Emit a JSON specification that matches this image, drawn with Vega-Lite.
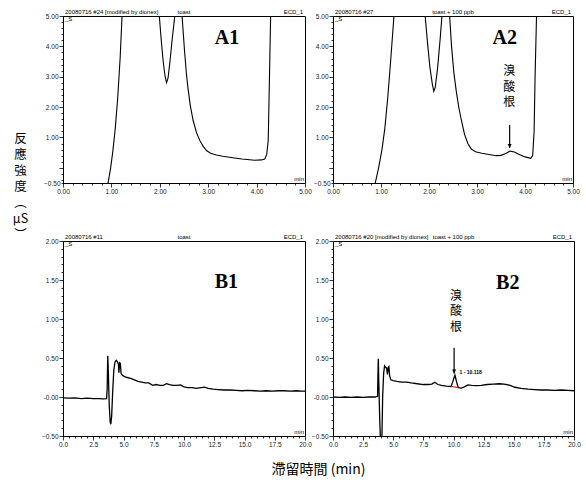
{
"$schema": "https://vega.github.io/schema/vega-lite/v6.json",
"background": "white",
"padding": {"left": 11, "top": 8, "right": 5, "bottom": 5},
"bounds": "flush",
"columns": 2,
"spacing": {"row": 58, "column": 28},
"config": {
  "view": {"stroke": "black", "strokeWidth": 1},
  "axis": {"labelFont": "Liberation Sans", "labelFontSize": 6.5, "labelColor": "#222", "tickColor": "#000", "domainColor": "#000", "grid": false, "labelOverlap": false, "labelFlush": false, "labelPadding": 1, "tickWidth": 0.8, "domainWidth": 1}
},
"datasets": {
  "a1": [{"x":0.88,"y":-1.2},{"x":0.93,"y":-0.5},{"x":0.98,"y":-0.05},{"x":1.03,"y":0.55},{"x":1.08,"y":1.3},{"x":1.13,"y":2.3},{"x":1.18,"y":3.6},{"x":1.22,"y":5.0},{"x":1.26,"y":6.5},{"x":1.95,"y":6.5},{"x":1.99,"y":5.0},{"x":2.03,"y":4.2},{"x":2.07,"y":3.5},{"x":2.11,"y":3.0},{"x":2.14,"y":2.8},{"x":2.17,"y":2.95},{"x":2.21,"y":3.5},{"x":2.26,"y":4.3},{"x":2.31,"y":5.0},{"x":2.34,"y":6.5},{"x":2.43,"y":6.5},{"x":2.46,"y":5.0},{"x":2.51,"y":3.87},{"x":2.55,"y":3.1},{"x":2.58,"y":2.65},{"x":2.63,"y":2.05},{"x":2.69,"y":1.55},{"x":2.76,"y":1.15},{"x":2.83,"y":0.89},{"x":2.9,"y":0.7},{"x":2.97,"y":0.56},{"x":3.05,"y":0.48},{"x":3.17,"y":0.42},{"x":3.3,"y":0.38},{"x":3.51,"y":0.33},{"x":3.7,"y":0.29},{"x":3.96,"y":0.25},{"x":4.1,"y":0.26},{"x":4.17,"y":0.29},{"x":4.21,"y":0.45},{"x":4.24,"y":0.9},{"x":4.26,"y":2.5},{"x":4.29,"y":5.0},{"x":4.32,"y":6.5}],
  "a2": [{"x":0.83,"y":-1.2},{"x":0.88,"y":-0.5},{"x":0.95,"y":0.0},{"x":1.02,"y":0.6},{"x":1.08,"y":1.3},{"x":1.14,"y":2.3},{"x":1.2,"y":3.5},{"x":1.27,"y":5.0},{"x":1.3,"y":6.5},{"x":1.89,"y":6.5},{"x":1.92,"y":5.0},{"x":1.97,"y":4.1},{"x":2.02,"y":3.3},{"x":2.07,"y":2.75},{"x":2.1,"y":2.52},{"x":2.13,"y":2.65},{"x":2.18,"y":3.3},{"x":2.23,"y":4.2},{"x":2.27,"y":5.0},{"x":2.3,"y":6.5},{"x":2.4,"y":6.5},{"x":2.43,"y":5.0},{"x":2.47,"y":4.0},{"x":2.52,"y":3.1},{"x":2.57,"y":2.5},{"x":2.62,"y":2.0},{"x":2.67,"y":1.6},{"x":2.74,"y":1.1},{"x":2.81,"y":0.8},{"x":2.88,"y":0.62},{"x":2.97,"y":0.53},{"x":3.1,"y":0.48},{"x":3.25,"y":0.44},{"x":3.4,"y":0.4},{"x":3.5,"y":0.41},{"x":3.6,"y":0.47},{"x":3.69,"y":0.55},{"x":3.78,"y":0.52},{"x":3.88,"y":0.44},{"x":4.0,"y":0.36},{"x":4.12,"y":0.31},{"x":4.16,"y":0.4},{"x":4.19,"y":1.2},{"x":4.21,"y":3.0},{"x":4.24,"y":5.0},{"x":4.27,"y":6.5}],
  "b1": [{"x":0,"y":-0.01},{"x":0.5,"y":-0.015},{"x":1.0,"y":-0.01},{"x":1.5,"y":-0.02},{"x":2.0,"y":-0.015},{"x":2.5,"y":-0.02},{"x":3.0,"y":-0.02},{"x":3.3,"y":-0.025},{"x":3.6,"y":-0.02},{"x":3.65,"y":0.1},{"x":3.7,"y":0.53},{"x":3.75,"y":0.3},{"x":3.82,"y":-0.1},{"x":3.9,"y":-0.32},{"x":3.95,"y":-0.35},{"x":4.02,"y":-0.25},{"x":4.1,"y":0.05},{"x":4.2,"y":0.35},{"x":4.3,"y":0.45},{"x":4.4,"y":0.47},{"x":4.5,"y":0.45},{"x":4.58,"y":0.42},{"x":4.62,"y":0.31},{"x":4.68,"y":0.44},{"x":4.74,"y":0.43},{"x":4.8,"y":0.3},{"x":4.9,"y":0.28},{"x":5.1,"y":0.26},{"x":5.3,"y":0.25},{"x":5.6,"y":0.24},{"x":5.9,"y":0.22},{"x":6.2,"y":0.2},{"x":6.5,"y":0.19},{"x":6.8,"y":0.18},{"x":7.1,"y":0.18},{"x":7.4,"y":0.15},{"x":7.7,"y":0.16},{"x":8.0,"y":0.15},{"x":8.3,"y":0.15},{"x":8.55,"y":0.17},{"x":8.8,"y":0.16},{"x":9.1,"y":0.15},{"x":9.4,"y":0.15},{"x":9.7,"y":0.155},{"x":10.0,"y":0.13},{"x":10.3,"y":0.12},{"x":10.7,"y":0.12},{"x":11.0,"y":0.11},{"x":11.4,"y":0.12},{"x":11.7,"y":0.125},{"x":12.0,"y":0.11},{"x":12.4,"y":0.1},{"x":12.8,"y":0.095},{"x":13.3,"y":0.09},{"x":13.8,"y":0.09},{"x":14.3,"y":0.085},{"x":14.8,"y":0.08},{"x":15.3,"y":0.085},{"x":15.8,"y":0.08},{"x":16.3,"y":0.075},{"x":16.8,"y":0.08},{"x":17.3,"y":0.075},{"x":17.8,"y":0.08},{"x":18.3,"y":0.08},{"x":18.8,"y":0.075},{"x":19.3,"y":0.08},{"x":19.7,"y":0.075},{"x":20,"y":0.075}],
  "b2": [{"x":0,"y":0.0},{"x":0.5,"y":-0.005},{"x":1.0,"y":0.0},{"x":1.5,"y":-0.005},{"x":2.0,"y":0.0},{"x":2.5,"y":-0.005},{"x":3.0,"y":0.0},{"x":3.5,"y":0.0},{"x":3.7,"y":0.01},{"x":3.73,"y":0.3},{"x":3.76,"y":0.49},{"x":3.8,"y":0.2},{"x":3.88,"y":-0.3},{"x":3.95,"y":-0.6},{"x":4.05,"y":-0.6},{"x":4.12,"y":0.0},{"x":4.2,"y":0.3},{"x":4.28,"y":0.4},{"x":4.36,"y":0.38},{"x":4.45,"y":0.37},{"x":4.52,"y":0.29},{"x":4.58,"y":0.38},{"x":4.64,"y":0.39},{"x":4.7,"y":0.27},{"x":4.8,"y":0.22},{"x":5.0,"y":0.21},{"x":5.3,"y":0.2},{"x":5.7,"y":0.19},{"x":6.1,"y":0.19},{"x":6.5,"y":0.18},{"x":7.0,"y":0.17},{"x":7.5,"y":0.16},{"x":7.9,"y":0.16},{"x":8.2,"y":0.165},{"x":8.45,"y":0.19},{"x":8.7,"y":0.16},{"x":9.0,"y":0.15},{"x":9.4,"y":0.14},{"x":9.8,"y":0.135},{"x":9.95,"y":0.2},{"x":10.12,"y":0.28},{"x":10.28,"y":0.18},{"x":10.4,"y":0.12},{"x":10.65,"y":0.115},{"x":10.9,"y":0.13},{"x":11.2,"y":0.155},{"x":11.5,"y":0.15},{"x":11.9,"y":0.145},{"x":12.3,"y":0.15},{"x":12.8,"y":0.16},{"x":13.3,"y":0.165},{"x":13.8,"y":0.17},{"x":14.2,"y":0.165},{"x":14.7,"y":0.15},{"x":15.1,"y":0.125},{"x":15.6,"y":0.11},{"x":16.2,"y":0.1},{"x":16.7,"y":0.095},{"x":17.3,"y":0.09},{"x":17.8,"y":0.09},{"x":18.4,"y":0.085},{"x":19.0,"y":0.09},{"x":19.5,"y":0.085},{"x":20,"y":0.08}],
  "txt": [
    {"p":"A1","k":"hl","x":0,"y":5,"s":"20080716 #24 [modified by dionex]"},
    {"p":"A1","k":"hc","x":2.5,"y":5,"s":"toast"},
    {"p":"A1","k":"hr","x":5,"y":5,"s":"ECD_1"},
    {"p":"A1","k":"u","x":0,"y":5,"s":"_S"},
    {"p":"A1","k":"m","x":5,"y":-0.5,"s":"min"},
    {"p":"A1","k":"big","x":3.39,"y":4.28,"s":"A1"},
    {"p":"A2","k":"hl","x":0,"y":5,"s":"20080716 #27"},
    {"p":"A2","k":"hc","x":2.5,"y":5,"s":"toast + 100 ppb"},
    {"p":"A2","k":"hr","x":5,"y":5,"s":"ECD_1"},
    {"p":"A2","k":"u","x":0,"y":5,"s":"_S"},
    {"p":"A2","k":"m","x":5,"y":-0.5,"s":"min"},
    {"p":"A2","k":"big","x":3.58,"y":4.28,"s":"A2"},
    {"p":"A2","k":"cn","x":3.67,"y":3.35,"s":"溴\n酸\n根"},
    {"p":"B1","k":"hl","x":0,"y":2,"s":"20080716 #11"},
    {"p":"B1","k":"hc","x":10,"y":2,"s":"toast"},
    {"p":"B1","k":"hr","x":20,"y":2,"s":"ECD_1"},
    {"p":"B1","k":"u","x":0,"y":2,"s":"_S"},
    {"p":"B1","k":"m","x":20,"y":-0.5,"s":"min"},
    {"p":"B1","k":"big","x":13.5,"y":1.48,"s":"B1"},
    {"p":"B2","k":"hl","x":0,"y":2,"s":"20080716 #20 [modified by dionex]"},
    {"p":"B2","k":"hc","x":10,"y":2,"s":"toast + 100 ppb"},
    {"p":"B2","k":"hr","x":20,"y":2,"s":"ECD_1"},
    {"p":"B2","k":"u","x":0,"y":2,"s":"_S"},
    {"p":"B2","k":"m","x":20,"y":-0.5,"s":"min"},
    {"p":"B2","k":"big","x":14.5,"y":1.46,"s":"B2"},
    {"p":"B2","k":"cn","x":10.2,"y":1.36,"s":"溴\n酸\n根"},
    {"p":"B2","k":"pk","x":10.5,"y":0.32,"s":"1 - 10.118"}
  ],
  "arrows": [
    {"p":"A2","x":3.68,"y":0.65,"ytop":1.41},
    {"p":"B2","x":10.05,"y":0.3,"ytop":0.63}
  ],
  "red": [{"x":9.85,"y":0.135},{"x":10.4,"y":0.12}]
},
"concat": [
  {"width": 242, "height": 167,
   "encoding": {
     "x": {"field":"x","type":"quantitative","scale":{"domain":[0,5],"nice":false,"zero":false},
           "axis":{"title":null,"values":[0,0.2,0.4,0.6,0.8,1,1.2,1.4,1.6,1.8,2,2.2,2.4,2.6,2.8,3,3.2,3.4,3.6,3.8,4,4.2,4.4,4.6,4.8,5],
                   "labelExpr":"abs(datum.value-round(datum.value))<0.001 ? format(datum.value,'.2f') : ''",
                   "tickSize":{"condition":{"test":"abs(datum.value-round(datum.value))<0.001","value":4},"value":2}}},
     "y": {"field":"y","type":"quantitative","scale":{"domain":[-0.5,5],"nice":false,"zero":false},
           "axis":{"values":[5,4.8,4.6,4.4,4.2,4,3.8,3.6,3.4,3.2,3,2.8,2.6,2.4,2.2,2,1.8,1.6,1.4,1.2,1,0.8,0.6,0.4,0.2,0,-0.2,-0.4,-0.5],
                   "labelExpr":"(abs(datum.value-round(datum.value))<0.001 && datum.value!=0) || datum.value==-0.5 ? format(datum.value,'.2f') : ''",
                   "tickSize":{"condition":{"test":"abs(datum.value-round(datum.value))<0.001","value":4},"value":2},
                   "title":["反","應","強","度","︵","μS","︶"],"titleAngle":0,"titleX":-43,"titleY":116,"titleAlign":"center","titleBaseline":"top",
                   "titleFont":"Noto Sans CJK TC","titleFontSize":12.5,"titleFontWeight":"normal","titleLineHeight":16,"titleColor":"#000"}}
   },
   "layer": [
     {"data":{"name":"a1"},"mark":{"type":"line","clip":true,"color":"black","strokeWidth":1.1}},
     {"data":{"name":"txt"},"transform":[{"filter":"datum.p=='A1' && datum.k=='hl'"}],"mark":{"type":"text","align":"left","baseline":"bottom","dy":-1,"dx":2,"font":"Liberation Sans","fontSize":6},"encoding":{"text":{"field":"s"}}},
     {"data":{"name":"txt"},"transform":[{"filter":"datum.p=='A1' && datum.k=='hc'"}],"mark":{"type":"text","align":"center","baseline":"bottom","dy":-1,"font":"Liberation Sans","fontSize":6},"encoding":{"text":{"field":"s"}}},
     {"data":{"name":"txt"},"transform":[{"filter":"datum.p=='A1' && datum.k=='hr'"}],"mark":{"type":"text","align":"right","baseline":"bottom","dy":-1,"dx":-2,"font":"Liberation Sans","fontSize":6},"encoding":{"text":{"field":"s"}}},
     {"data":{"name":"txt"},"transform":[{"filter":"datum.p=='A1' && datum.k=='u'"}],"mark":{"type":"text","align":"left","baseline":"top","dy":0,"dx":2,"font":"Liberation Sans","fontSize":6},"encoding":{"text":{"field":"s"}}},
     {"data":{"name":"txt"},"transform":[{"filter":"datum.p=='A1' && datum.k=='m'"}],"mark":{"type":"text","align":"right","baseline":"bottom","dy":-1,"dx":-1,"font":"Liberation Sans","fontSize":6},"encoding":{"text":{"field":"s"}}},
     {"data":{"name":"txt"},"transform":[{"filter":"datum.p=='A1' && datum.k=='big'"}],"mark":{"type":"text","align":"center","baseline":"middle","font":"Liberation Serif","fontSize":20,"fontWeight":"bold"},"encoding":{"text":{"field":"s"}}}
   ]},
  {"width": 240, "height": 167,
   "encoding": {
     "x": {"field":"x","type":"quantitative","scale":{"domain":[0,5],"nice":false,"zero":false},
           "axis":{"title":null,"values":[0,0.2,0.4,0.6,0.8,1,1.2,1.4,1.6,1.8,2,2.2,2.4,2.6,2.8,3,3.2,3.4,3.6,3.8,4,4.2,4.4,4.6,4.8,5],
                   "labelExpr":"abs(datum.value-round(datum.value))<0.001 ? format(datum.value,'.2f') : ''",
                   "tickSize":{"condition":{"test":"abs(datum.value-round(datum.value))<0.001","value":4},"value":2}}},
     "y": {"field":"y","type":"quantitative","scale":{"domain":[-0.5,5],"nice":false,"zero":false},
           "axis":{"title":null,"values":[5,4.8,4.6,4.4,4.2,4,3.8,3.6,3.4,3.2,3,2.8,2.6,2.4,2.2,2,1.8,1.6,1.4,1.2,1,0.8,0.6,0.4,0.2,0,-0.2,-0.4,-0.5],
                   "labelExpr":"(abs(datum.value-round(datum.value))<0.001 && datum.value!=0) || datum.value==-0.5 ? format(datum.value,'.2f') : ''",
                   "tickSize":{"condition":{"test":"abs(datum.value-round(datum.value))<0.001","value":4},"value":2}}}
   },
   "layer": [
     {"data":{"name":"a2"},"mark":{"type":"line","clip":true,"color":"black","strokeWidth":1.1}},
     {"data":{"name":"txt"},"transform":[{"filter":"datum.p=='A2' && datum.k=='hl'"}],"mark":{"type":"text","align":"left","baseline":"bottom","dy":-1,"dx":2,"font":"Liberation Sans","fontSize":6},"encoding":{"text":{"field":"s"}}},
     {"data":{"name":"txt"},"transform":[{"filter":"datum.p=='A2' && datum.k=='hc'"}],"mark":{"type":"text","align":"center","baseline":"bottom","dy":-1,"font":"Liberation Sans","fontSize":6},"encoding":{"text":{"field":"s"}}},
     {"data":{"name":"txt"},"transform":[{"filter":"datum.p=='A2' && datum.k=='hr'"}],"mark":{"type":"text","align":"right","baseline":"bottom","dy":-1,"dx":-2,"font":"Liberation Sans","fontSize":6},"encoding":{"text":{"field":"s"}}},
     {"data":{"name":"txt"},"transform":[{"filter":"datum.p=='A2' && datum.k=='u'"}],"mark":{"type":"text","align":"left","baseline":"top","dy":0,"dx":2,"font":"Liberation Sans","fontSize":6},"encoding":{"text":{"field":"s"}}},
     {"data":{"name":"txt"},"transform":[{"filter":"datum.p=='A2' && datum.k=='m'"}],"mark":{"type":"text","align":"right","baseline":"bottom","dy":-1,"dx":-1,"font":"Liberation Sans","fontSize":6},"encoding":{"text":{"field":"s"}}},
     {"data":{"name":"txt"},"transform":[{"filter":"datum.p=='A2' && datum.k=='big'"}],"mark":{"type":"text","align":"center","baseline":"middle","font":"Liberation Serif","fontSize":20,"fontWeight":"bold"},"encoding":{"text":{"field":"s"}}},
     {"data":{"name":"txt"},"transform":[{"filter":"datum.p=='A2' && datum.k=='cn'"}],"mark":{"type":"text","align":"center","baseline":"top","lineBreak":"\n","lineHeight":15.5,"font":"Noto Sans CJK TC","fontSize":12},"encoding":{"text":{"field":"s"}}},
     {"data":{"name":"arrows"},"transform":[{"filter":"datum.p=='A2'"}],"mark":{"type":"rule","color":"black","strokeWidth":1.2},"encoding":{"y2":{"field":"ytop"}}},
     {"data":{"name":"arrows"},"transform":[{"filter":"datum.p=='A2'"}],"mark":{"type":"point","shape":"M-0.5,-1L0.5,-1L0,0Z","filled":true,"color":"black","size":64,"opacity":1}}
   ]},
  {"width": 242, "height": 195,
   "encoding": {
     "x": {"field":"x","type":"quantitative","scale":{"domain":[0,20],"nice":false,"zero":false},
           "axis":{"values":[0,0.5,1,1.5,2,2.5,3,3.5,4,4.5,5,5.5,6,6.5,7,7.5,8,8.5,9,9.5,10,10.5,11,11.5,12,12.5,13,13.5,14,14.5,15,15.5,16,16.5,17,17.5,18,18.5,19,19.5,20],
                   "labelExpr":"abs(datum.value/2.5-round(datum.value/2.5))<0.001 ? format(datum.value,'.1f') : ''",
                   "tickSize":{"condition":{"test":"abs(datum.value/2.5-round(datum.value/2.5))<0.001","value":4},"value":2},
                   "title":"滯留時間 (min)","titleX":255,"titleY":26,"titleAlign":"center","titleBaseline":"top","titleFont":"Noto Sans CJK TC","titleFontSize":14,"titleFontWeight":"normal","titleColor":"#000"}},
     "y": {"field":"y","type":"quantitative","scale":{"domain":[-0.5,2],"nice":false,"zero":false},
           "axis":{"title":null,"values":[2,1.9,1.8,1.7,1.6,1.5,1.4,1.3,1.2,1.1,1,0.9,0.8,0.7,0.6,0.5,0.4,0.3,0.2,0.1,0,-0.1,-0.2,-0.3,-0.4,-0.5],
                   "labelExpr":"abs(datum.value*2-round(datum.value*2))<0.001 ? (abs(datum.value)<0.001 ? '-0.00' : format(datum.value,'.2f')) : ''",
                   "tickSize":{"condition":{"test":"abs(datum.value*2-round(datum.value*2))<0.001","value":4},"value":2}}}
   },
   "layer": [
     {"data":{"name":"b1"},"mark":{"type":"line","clip":true,"color":"black","strokeWidth":1.3}},
     {"data":{"name":"txt"},"transform":[{"filter":"datum.p=='B1' && datum.k=='hl'"}],"mark":{"type":"text","align":"left","baseline":"bottom","dy":-1,"dx":2,"font":"Liberation Sans","fontSize":6},"encoding":{"text":{"field":"s"}}},
     {"data":{"name":"txt"},"transform":[{"filter":"datum.p=='B1' && datum.k=='hc'"}],"mark":{"type":"text","align":"center","baseline":"bottom","dy":-1,"font":"Liberation Sans","fontSize":6},"encoding":{"text":{"field":"s"}}},
     {"data":{"name":"txt"},"transform":[{"filter":"datum.p=='B1' && datum.k=='hr'"}],"mark":{"type":"text","align":"right","baseline":"bottom","dy":-1,"dx":-2,"font":"Liberation Sans","fontSize":6},"encoding":{"text":{"field":"s"}}},
     {"data":{"name":"txt"},"transform":[{"filter":"datum.p=='B1' && datum.k=='u'"}],"mark":{"type":"text","align":"left","baseline":"top","dy":0,"dx":2,"font":"Liberation Sans","fontSize":6},"encoding":{"text":{"field":"s"}}},
     {"data":{"name":"txt"},"transform":[{"filter":"datum.p=='B1' && datum.k=='m'"}],"mark":{"type":"text","align":"right","baseline":"bottom","dy":-1,"dx":-1,"font":"Liberation Sans","fontSize":6},"encoding":{"text":{"field":"s"}}},
     {"data":{"name":"txt"},"transform":[{"filter":"datum.p=='B1' && datum.k=='big'"}],"mark":{"type":"text","align":"center","baseline":"middle","font":"Liberation Serif","fontSize":20,"fontWeight":"bold"},"encoding":{"text":{"field":"s"}}}
   ]},
  {"width": 241, "height": 195,
   "encoding": {
     "x": {"field":"x","type":"quantitative","scale":{"domain":[0,20],"nice":false,"zero":false},
           "axis":{"title":null,"values":[0,0.5,1,1.5,2,2.5,3,3.5,4,4.5,5,5.5,6,6.5,7,7.5,8,8.5,9,9.5,10,10.5,11,11.5,12,12.5,13,13.5,14,14.5,15,15.5,16,16.5,17,17.5,18,18.5,19,19.5,20],
                   "labelExpr":"abs(datum.value/2.5-round(datum.value/2.5))<0.001 ? format(datum.value,'.1f') : ''",
                   "tickSize":{"condition":{"test":"abs(datum.value/2.5-round(datum.value/2.5))<0.001","value":4},"value":2}}},
     "y": {"field":"y","type":"quantitative","scale":{"domain":[-0.5,2],"nice":false,"zero":false},
           "axis":{"title":null,"values":[2,1.9,1.8,1.7,1.6,1.5,1.4,1.3,1.2,1.1,1,0.9,0.8,0.7,0.6,0.5,0.4,0.3,0.2,0.1,0,-0.1,-0.2,-0.3,-0.4,-0.5],
                   "labelExpr":"abs(datum.value*2-round(datum.value*2))<0.001 ? (abs(datum.value)<0.001 ? '-0.00' : format(datum.value,'.2f')) : ''",
                   "tickSize":{"condition":{"test":"abs(datum.value*2-round(datum.value*2))<0.001","value":4},"value":2}}}
   },
   "layer": [
     {"data":{"name":"b2"},"mark":{"type":"line","clip":true,"color":"black","strokeWidth":1.3}},
     {"data":{"name":"red"},"mark":{"type":"line","clip":true,"color":"#e8141b","strokeWidth":1.2}},
     {"data":{"name":"txt"},"transform":[{"filter":"datum.p=='B2' && datum.k=='hl'"}],"mark":{"type":"text","align":"left","baseline":"bottom","dy":-1,"dx":2,"font":"Liberation Sans","fontSize":6},"encoding":{"text":{"field":"s"}}},
     {"data":{"name":"txt"},"transform":[{"filter":"datum.p=='B2' && datum.k=='hc'"}],"mark":{"type":"text","align":"center","baseline":"bottom","dy":-1,"font":"Liberation Sans","fontSize":6},"encoding":{"text":{"field":"s"}}},
     {"data":{"name":"txt"},"transform":[{"filter":"datum.p=='B2' && datum.k=='hr'"}],"mark":{"type":"text","align":"right","baseline":"bottom","dy":-1,"dx":-2,"font":"Liberation Sans","fontSize":6},"encoding":{"text":{"field":"s"}}},
     {"data":{"name":"txt"},"transform":[{"filter":"datum.p=='B2' && datum.k=='u'"}],"mark":{"type":"text","align":"left","baseline":"top","dy":0,"dx":2,"font":"Liberation Sans","fontSize":6},"encoding":{"text":{"field":"s"}}},
     {"data":{"name":"txt"},"transform":[{"filter":"datum.p=='B2' && datum.k=='m'"}],"mark":{"type":"text","align":"right","baseline":"bottom","dy":-1,"dx":-1,"font":"Liberation Sans","fontSize":6},"encoding":{"text":{"field":"s"}}},
     {"data":{"name":"txt"},"transform":[{"filter":"datum.p=='B2' && datum.k=='big'"}],"mark":{"type":"text","align":"center","baseline":"middle","font":"Liberation Serif","fontSize":20,"fontWeight":"bold"},"encoding":{"text":{"field":"s"}}},
     {"data":{"name":"txt"},"transform":[{"filter":"datum.p=='B2' && datum.k=='cn'"}],"mark":{"type":"text","align":"center","baseline":"top","lineBreak":"\n","lineHeight":15.5,"font":"Noto Sans CJK TC","fontSize":12},"encoding":{"text":{"field":"s"}}},
     {"data":{"name":"txt"},"transform":[{"filter":"datum.p=='B2' && datum.k=='pk'"}],"mark":{"type":"text","align":"left","baseline":"middle","font":"Liberation Sans","fontSize":5,"fontWeight":"bold"},"encoding":{"text":{"field":"s"}}},
     {"data":{"name":"arrows"},"transform":[{"filter":"datum.p=='B2'"}],"mark":{"type":"rule","color":"black","strokeWidth":1.2},"encoding":{"y2":{"field":"ytop"}}},
     {"data":{"name":"arrows"},"transform":[{"filter":"datum.p=='B2'"}],"mark":{"type":"point","shape":"M-0.5,-1L0.5,-1L0,0Z","filled":true,"color":"black","size":64,"opacity":1}}
   ]}
]
}
